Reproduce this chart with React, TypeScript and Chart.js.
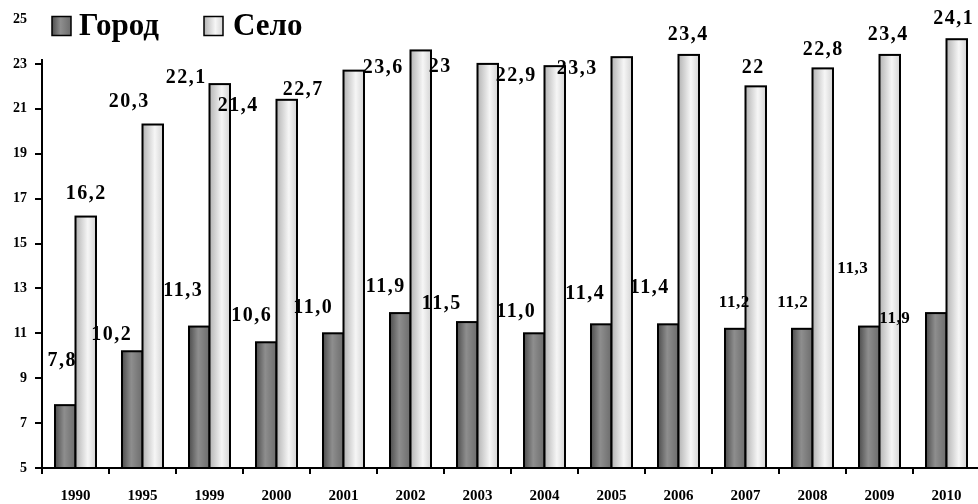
import React, { useEffect, useRef } from 'react';
import { Chart, registerables } from 'chart.js';

Chart.register(...registerables);

// Years on the category axis
const years = ['1990', '1995', '1999', '2000', '2001', '2002', '2003', '2004', '2005', '2006', '2007', '2008', '2009', '2010'];

// Series values
const gorod = [7.8, 10.2, 11.3, 10.6, 11.0, 11.9, 11.5, 11.0, 11.4, 11.4, 11.2, 11.2, 11.3, 11.9];
const selo = [16.2, 20.3, 22.1, 21.4, 22.7, 23.6, 23.0, 22.9, 23.3, 23.4, 22.0, 22.8, 23.4, 24.1];

const seriesNames = ['Город', 'Село'];

// Value axis
const yMin = 5;
const yMax = 25;
const yStep = 2;

// Value-label placement: pixel shift of the label centre from the top-centre of its bar
const gorodLabelShift: [number, number][] = [
  [-3, -44], [-20.5, -16], [-16, -35.5], [-14.5, -26], [-20, -25], [-14.5, -26], [-25.5, -18],
  [-18, -21.5], [-16, -30.5], [-18.5, -36.5], [-1, -26], [-9.5, -26], [-16.5, -57.5], [-41.5, 6],
];
const seloLabelShift: [number, number][] = [
  [0.5, -22.5], [-23.5, -23], [-33.5, -6], [-48.5, 6.5], [-50.5, 19], [-37.5, 17], [-47.5, 2.5],
  [-38.5, 10], [-44.5, 11.5], [-0.5, -20.5], [-2.5, -18.5], [0.5, -19], [-1.5, -20.5], [-3, -20],
];
// Value-label font sizes
const gorodLabelSize = [20, 20, 20, 20, 20, 20, 20, 20, 20, 20, 17, 17, 17, 17];
const seloLabelSize = [20, 20, 20, 20, 20, 20, 20, 20, 20, 20, 20, 20, 20, 20];

const FONT = '"Liberation Serif", "Times New Roman", "DejaVu Serif", serif';

const barStops: [number, string][][] = [
  [[0, '#4e4e4e'], [0.45, '#8e8e8e'], [1, '#6c6c6c']],
  [[0, '#b4b4b4'], [0.6, '#f6f6f6'], [1, '#d4d4d4']],
];

const fmtGorod = (v: number) => v.toFixed(1).replace('.', ',');
const fmtSelo = (v: number) => (Number.isInteger(v) ? String(v) : v.toFixed(1).replace('.', ','));

function shadedRect(ctx: CanvasRenderingContext2D, x: number, y: number, w: number, h: number, stops: [number, string][], lw: number) {
  const g = ctx.createLinearGradient(x, 0, x + w, 0);
  stops.forEach(([o, c]) => g.addColorStop(o, c));
  ctx.fillStyle = g;
  ctx.fillRect(x, y, w, h);
  ctx.strokeStyle = '#000';
  ctx.lineWidth = lw;
  ctx.strokeRect(x, y, w, h);
}

// Draws every bar with a horizontal shading and black outline, using element geometry;
// bars rise from the bottom of the value axis
const shadedBars = {
  id: 'shadedBars',
  afterDatasetsDraw(chart: any) {
    const ctx: CanvasRenderingContext2D = chart.ctx;
    const floor = chart.chartArea.bottom;
    ctx.save();
    chart.data.datasets.forEach((_: any, di: number) => {
      const meta = chart.getDatasetMeta(di);
      meta.data.forEach((el: any) => {
        const { x, y, base, width } = el.getProps(['x', 'y', 'base', 'width'], true);
        const b = Math.min(base, floor);
        shadedRect(ctx, x - width / 2, y, width, b - y, barStops[di], 2);
      });
    });
    ctx.restore();
  },
};

// Value labels
const valueLabels = {
  id: 'valueLabels',
  afterDatasetsDraw(chart: any) {
    const ctx: CanvasRenderingContext2D = chart.ctx;
    ctx.save();
    ctx.fillStyle = '#000';
    ctx.textAlign = 'center';
    ctx.textBaseline = 'middle';
    const specs = [
      { fmt: fmtGorod, shift: gorodLabelShift, size: gorodLabelSize },
      { fmt: fmtSelo, shift: seloLabelShift, size: seloLabelSize },
    ];
    chart.data.datasets.forEach((ds: any, di: number) => {
      const meta = chart.getDatasetMeta(di);
      const spec = specs[di];
      meta.data.forEach((el: any, i: number) => {
        const { x, y } = el.getProps(['x', 'y'], true);
        const size = spec.size[i];
        ctx.font = `bold ${size}px ${FONT}`;
        (ctx as any).letterSpacing = size >= 20 ? '1.5px' : '0.5px';
        ctx.fillText(spec.fmt(ds.data[i]), x + spec.shift[i][0], y + spec.shift[i][1]);
      });
    });
    ctx.restore();
  },
};

// Legend in the upper-left corner on an opaque white panel
const cornerLegend = {
  id: 'cornerLegend',
  afterDraw(chart: any) {
    const ctx: CanvasRenderingContext2D = chart.ctx;
    ctx.save();
    ctx.fillStyle = '#fff';
    ctx.fillRect(33, 0, 280, 59);
    const items = [
      { box: 52, text: 79 },
      { box: 204, text: 233 },
    ];
    ctx.font = `bold 31px ${FONT}`;
    ctx.textAlign = 'left';
    ctx.textBaseline = 'alphabetic';
    chart.data.datasets.forEach((ds: any, di: number) => {
      const it = items[di];
      shadedRect(ctx, it.box, 16.5, 19, 19, barStops[di], 1.5);
      ctx.fillStyle = '#000';
      ctx.fillText(ds.label, it.text, 35);
    });
    ctx.restore();
  },
};

export default function App() {
  const ref = useRef<HTMLCanvasElement>(null);

  useEffect(() => {
    if (!ref.current) return;
    Chart.defaults.font.family = FONT;
    const chart = new Chart(ref.current, {
      type: 'bar',
      data: {
        labels: years,
        datasets: [
          { label: seriesNames[0], data: gorod, backgroundColor: 'rgba(0,0,0,0)', borderWidth: 0 },
          { label: seriesNames[1], data: selo, backgroundColor: 'rgba(0,0,0,0)', borderWidth: 0 },
        ],
      },
      options: {
        responsive: false,
        animation: false,
        devicePixelRatio: 1,
        categoryPercentage: 0.612,
        barPercentage: 1,
        layout: { padding: { top: 19, left: 0, right: 0, bottom: 0 } },
        plugins: {
          legend: { display: false },
          tooltip: { enabled: false },
        },
        scales: {
          x: {
            offset: true,
            grid: { display: true, offset: true, drawOnChartArea: false, drawTicks: true, tickLength: 6, color: '#000', lineWidth: 2 },
            border: { display: true, color: '#000', width: 2 },
            ticks: { color: '#000', font: { size: 15, weight: 'bold' }, padding: 13, maxRotation: 0, autoSkip: false },
            afterFit: (s: any) => { s.height = 36; },
          },
          y: {
            min: yMin,
            max: yMax,
            ticks: { stepSize: yStep, color: '#000', font: { size: 14, weight: 'bold' }, padding: 8 },
            grid: { display: true, drawOnChartArea: false, drawTicks: true, tickLength: 7, color: '#000', lineWidth: 2 },
            border: { display: true, color: '#000', width: 2 },
            afterFit: (s: any) => { s.width = 42; },
          },
        },
      } as any,
      plugins: [shadedBars, valueLabels, cornerLegend],
    });
    return () => chart.destroy();
  }, []);

  return (
    <div style={{ position: 'absolute', left: 0, top: 0, width: 978, height: 504, overflow: 'hidden', background: '#fff' }}>
      <canvas ref={ref} width={980} height={504} style={{ display: 'block', width: 980, height: 504 }} />
    </div>
  );
}
